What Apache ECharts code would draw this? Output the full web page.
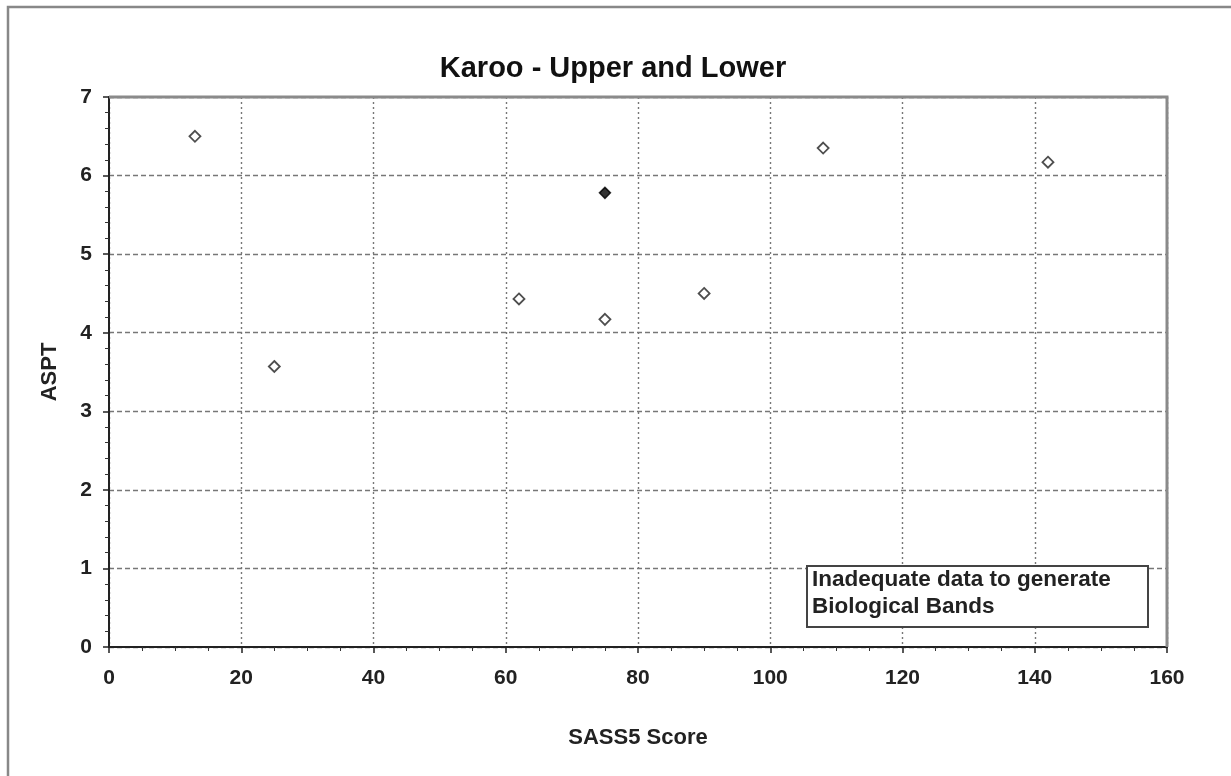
<!DOCTYPE html>
<html>
<head>
<meta charset="utf-8">
<script src="https://cdn.jsdelivr.net/npm/echarts@6/dist/echarts.min.js"></script>
<style>
html,body{margin:0;padding:0;background:#fff;}
#chart{width:1231px;height:776px;}
</style>
</head>
<body>
<div id="chart"></div>
<script>
const titleText = 'Karoo - Upper and Lower';
const xName = 'SASS5 Score';
const yName = 'ASPT';
const noteLines = ['Inadequate data to generate', 'Biological Bands'];
const openSass = [13, 25, 62, 75, 90, 108, 142];
const openAspt = [6.5, 3.57, 4.43, 4.17, 4.5, 6.35, 6.17];
const filledSass = [75];
const filledAspt = [5.78];

const openData = openSass.map((x, i) => [x, openAspt[i]]);
const filledData = filledSass.map((x, i) => [x, filledAspt[i]]);

const chart = echarts.init(document.getElementById('chart'));
const font = 'Liberation Sans, Arial, sans-serif';
chart.setOption({
  animation: false,
  backgroundColor: '#fff',
  title: {
    text: titleText, left: 608, top: 49, textAlign: 'center',
    textStyle: {fontFamily: font, fontSize: 29, fontWeight: 'bold', color: '#111'}
  },
  grid: {left: 109, right: 64, top: 97, bottom: 129, show: false},
  xAxis: {
    type: 'value', min: 0, max: 160, interval: 20,
    name: xName, nameLocation: 'middle', nameGap: 80,
    nameTextStyle: {fontFamily: font, fontSize: 22, fontWeight: 'bold', color: '#222'},
    axisLine: {show: true, lineStyle: {color: '#222', width: 2}},
    axisTick: {show: true, length: 6, lineStyle: {color: '#222', width: 1.5}},
    minorTick: {show: true, splitNumber: 4, length: 4, lineStyle: {color: '#333'}},
    axisLabel: {fontFamily: font, fontSize: 21, fontWeight: 'bold', color: '#222', margin: 21},
    splitLine: {show: true, lineStyle: {color: '#777', type: [2, 3], width: 1.4}}
  },
  yAxis: {
    type: 'value', min: 0, max: 7, interval: 1,
    name: yName, nameLocation: 'middle', nameGap: 48, nameRotate: 90,
    nameTextStyle: {fontFamily: font, fontSize: 22, fontWeight: 'bold', color: '#222'},
    axisLine: {show: true, lineStyle: {color: '#222', width: 2}},
    axisTick: {show: true, length: 6, lineStyle: {color: '#222', width: 1.5}},
    minorTick: {show: true, splitNumber: 5, length: 4, lineStyle: {color: '#333'}},
    axisLabel: {fontFamily: font, fontSize: 21, fontWeight: 'bold', color: '#222', margin: 17},
    splitLine: {show: true, lineStyle: {color: '#777', type: [5, 3], width: 1.4}}
  },
  graphic: [
    {type: 'rect', shape: {x: 8, y: 7, width: 1240, height: 790}, style: {fill: 'none', stroke: '#888', lineWidth: 2.5}, z: 100},
    {type: 'polyline', shape: {points: [[109, 97], [1167, 97], [1167, 647]]}, style: {fill: 'none', stroke: '#8a8a8a', lineWidth: 3}, z: 100},
    {type: 'rect', shape: {x: 807, y: 566, width: 341, height: 61}, style: {fill: '#fff', stroke: '#444', lineWidth: 2}, z: 100},
    {type: 'text', x: 812, y: 566, style: {text: noteLines.join('\n'), font: 'bold 22.5px Liberation Sans, Arial, sans-serif', fill: '#222', lineHeight: 27}, z: 101}
  ],
  series: [
    {type: 'scatter', data: openData, symbol: 'diamond', symbolSize: 11,
     itemStyle: {color: '#fff', borderColor: '#222', borderWidth: 1.8}, z: 10},
    {type: 'scatter', data: filledData, symbol: 'diamond', symbolSize: 11,
     itemStyle: {color: '#000', borderColor: '#000', borderWidth: 1.5}, z: 10}
  ]
});
</script>
</body>
</html>
